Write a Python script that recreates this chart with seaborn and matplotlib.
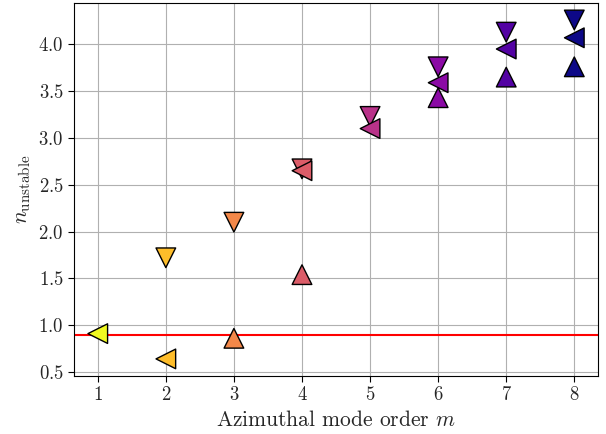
import matplotlib
matplotlib.use("Agg")
import matplotlib.pyplot as plt
import pandas as pd
import seaborn as sns

# modes with a downward / upward / leftward triangle marker
m_down = [2, 3, 4, 5, 6, 7, 8]
n_down = [1.72, 2.10, 2.67, 3.23, 3.76, 4.13, 4.26]
m_up = [3, 4, 6, 7, 8]
n_up = [0.86, 1.54, 3.43, 3.65, 3.76]
m_left = [1, 2, 4, 5, 6, 7, 8]
n_left = [0.91, 0.64, 2.65, 3.10, 3.59, 3.95, 4.07]
threshold = 0.9

df = pd.concat([
    pd.DataFrame({"m": m_down, "n": n_down, "kind": "down"}),
    pd.DataFrame({"m": m_up, "n": n_up, "kind": "up"}),
    pd.DataFrame({"m": m_left, "n": n_left, "kind": "left"}),
], ignore_index=True)

sns.set_style("ticks", {"axes.grid": True, "grid.color": "#b0b0b0"})
plt.rcParams["font.family"] = "serif"
plt.rcParams["font.serif"] = ["cmr10", "DejaVu Serif"]
plt.rcParams["mathtext.fontset"] = "cm"
plt.rcParams["axes.formatter.use_mathtext"] = True

fig, ax = plt.subplots(figsize=(6.06, 4.34), dpi=100)
fig.subplots_adjust(left=0.122, right=0.987, top=0.993, bottom=0.134)

ax.axhline(threshold, color="red", lw=1.5, zorder=1)
sns.scatterplot(
    data=df, x="m", y="n", hue="m", palette="plasma_r",
    style="kind", markers={"down": "v", "up": "^", "left": "<"},
    s=200, edgecolor="black", linewidth=1, legend=False, ax=ax, zorder=3,
)

ax.set_xlabel("Azimuthal mode order $m$", fontsize=15.5)
ax.set_ylabel(r"$n_{\mathrm{unstable}}$", fontsize=15.5)
ax.tick_params(labelsize=13.5, direction="out", length=4, color="black")
for sp in ax.spines.values():
    sp.set_color("black")
ax.set_axisbelow(True)

fig.savefig("out.png", dpi=100)
